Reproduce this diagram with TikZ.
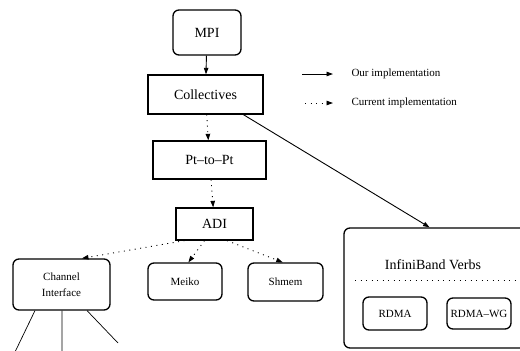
\documentclass[tikz,border=0pt]{standalone}
\usepackage{fontspec}
\setmainfont{Liberation Serif}
\usetikzlibrary{arrows.meta,calc}

\tikzset{
  big/.style={font=\fontsize{14}{16}\selectfont},
  small/.style={font=\fontsize{11}{16}\selectfont},
  layer/.style={draw, line width=1.3pt, inner sep=0pt, big},
  rlayer/.style={layer, rounded corners=6pt},
  module/.style={draw, line width=1.3pt, rounded corners=6pt, inner sep=0pt, small, align=center},
  tip/.style={-{Triangle[length=6.5pt,width=4.5pt]}},
  ours/.style={tip, line width=0.9pt},
  current/.style={tip, line width=0.9pt, dash pattern=on 1pt off 4.5pt},
  plain/.style={line width=0.7pt},
}

\begin{document}
\begin{tikzpicture}[x=1pt,y=-1pt]
\useasboundingbox (0,0) rectangle (520,351);

% software layers
\node[rlayer, minimum width=68pt, minimum height=45pt] (mpi) at (207,32.5) {MPI};
\node[layer, minimum width=115pt, minimum height=39pt] (coll) at (205.5,94.5) {Collectives};
\node[layer, minimum width=113pt, minimum height=38pt] (p2p) at (209.5,160) {Pt--to--Pt};
\node[layer, minimum width=77pt, minimum height=32pt] (adi) at (214.5,224) {ADI};

% devices below the ADI
\node[module, minimum width=97pt, minimum height=51pt] (chan) at (61.5,284.5) {Channel\\Interface};
\node[module, minimum width=74pt, minimum height=37pt] (meiko) at (185,281.5) {Meiko};
\node[module, minimum width=75pt, minimum height=38pt] (shmem) at (285.5,282) {Shmem};

% InfiniBand verbs layer
\node[draw, line width=1.3pt, rounded corners=6pt, minimum width=186pt, minimum height=120pt] (verbs) at (437,288) {};
\node[big] (ibv) at (433,265) {InfiniBand Verbs};
\coordinate (sepL) at (355,280);
\coordinate (sepR) at (525,280);
\draw[line width=0.9pt, dash pattern=on 1pt off 4.5pt] (sepL) -- (sepR);
\node[module, minimum width=64pt, minimum height=33pt] (rdma) at (395,313.5) {RDMA};
\node[module, minimum width=64pt, minimum height=31pt] (rdmawg) at (479,313.5) {RDMA--WG};

% connectors
\draw[ours] (mpi) -- (coll);
\draw[current] (coll) -- (p2p);
\draw[current] (p2p) -- (adi);
\draw[ours] (coll.-28) -- (verbs.97);
\draw[current] (adi.-151) -- (chan.52);
\draw[current] (adi.-121) -- (meiko.80);
\draw[current] (adi.-53) -- (shmem.98);

% channel interface fan-out
\coordinate (f1) at (15,352);
\coordinate (f2) at (62,352);
\coordinate (f3) at (118,343);
\draw[plain] ($(chan.south west)!0.23!(chan.south east)$) -- (f1);
\draw[plain] ($(chan.south west)!0.505!(chan.south east)$) -- (f2);
\draw[plain] ($(chan.south west)!0.76!(chan.south east)$) -- (f3);

% legend
\coordinate (l1a) at (302,74);
\coordinate (l1b) at (333,74);
\coordinate (l2a) at (305,103);
\coordinate (l2b) at (333,103);
\draw[ours] (l1a) -- (l1b);
\draw[current] (l2a) -- (l2b);
\node[small, anchor=west] (lg1) at (348,74) {Our implementation};
\node[small, anchor=west] (lg2) at (348,103) {Current implementation};
\end{tikzpicture}
\end{document}
